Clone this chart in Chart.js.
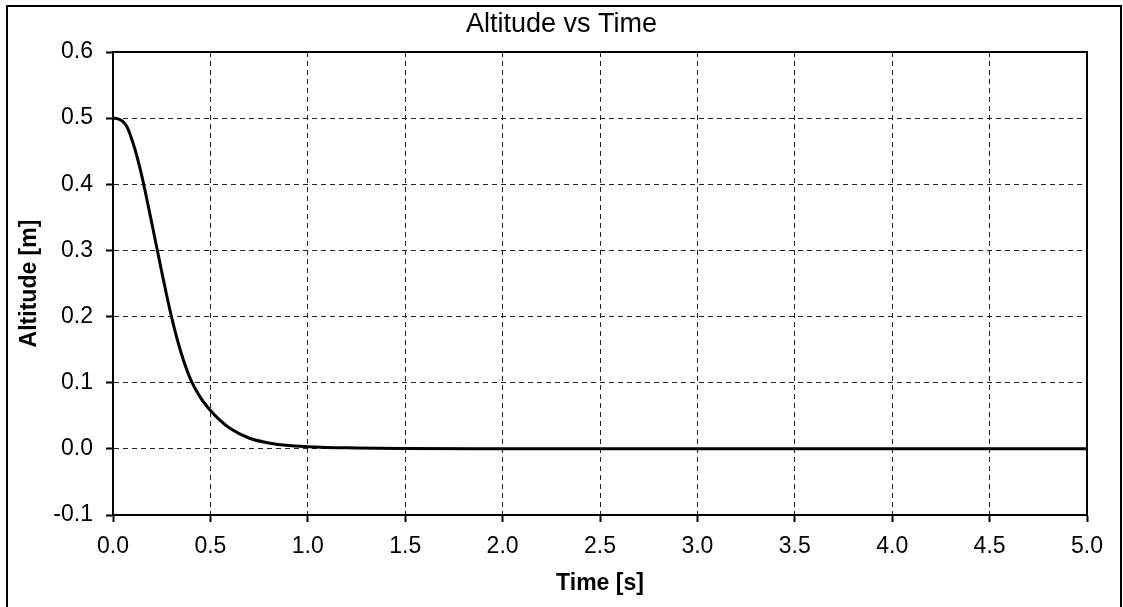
<!DOCTYPE html>
<html>
<head>
<meta charset="utf-8">
<script src="https://cdn.jsdelivr.net/npm/chart.js@4.4.0/dist/chart.umd.min.js"></script>
<style>
  html, body { margin: 0; padding: 0; background: #fff; }
  #wrap { width: 1123px; height: 607px; position: relative; }
</style>
</head>
<body>
<div id="wrap"><canvas id="c" width="1123" height="607"></canvas></div>
<script>
// Time [s]
const timeValues = [0, 0.025, 0.05, 0.075, 0.1, 0.125, 0.15, 0.2, 0.25, 0.3, 0.35, 0.4, 0.45, 0.5, 0.55, 0.6, 0.7, 0.8, 0.9, 1.0, 1.2, 1.5, 2.0, 2.5, 3.0, 3.5, 4.0, 4.5, 5.0];
// Altitude [m]
const altitudeValues = [0.5, 0.499, 0.495, 0.485, 0.465, 0.44, 0.41, 0.34, 0.268, 0.2, 0.145, 0.104, 0.077, 0.058, 0.043, 0.031, 0.016, 0.009, 0.005, 0.0033, 0.0015, 0.0005, 0.0001, 0, 0, 0, 0, 0, 0];
const xTickLabels = ['0.0','0.5','1.0','1.5','2.0','2.5','3.0','3.5','4.0','4.5','5.0'];
const yTickLabels = ['-0.1','0.0','0.1','0.2','0.3','0.4','0.5','0.6'];

const points = timeValues.map((t, i) => ({ x: t, y: altitudeValues[i] }));
const FONT = "'Liberation Sans', Arial, sans-serif";

const framePlugin = {
  id: 'frame',
  beforeDraw(chart) {
    const ctx = chart.ctx;
    ctx.save();
    ctx.fillStyle = '#fff';
    ctx.fillRect(0, 0, chart.width, chart.height);
    ctx.strokeStyle = '#000';
    ctx.lineWidth = 2;
    ctx.strokeRect(7, 6, 1114, 620);
    ctx.restore();
  },
  afterDatasetsDraw(chart) {
    const a = chart.chartArea;
    const ctx = chart.ctx;
    ctx.save();
    ctx.strokeStyle = '#000';
    ctx.lineWidth = 2;
    ctx.strokeRect(a.left, a.top, a.right - a.left, a.bottom - a.top);
    ctx.restore();
  }
};

new Chart(document.getElementById('c'), {
  type: 'line',
  data: {
    datasets: [{
      label: 'Altitude',
      data: points,
      borderColor: '#000',
      borderWidth: 3,
      pointRadius: 0,
      fill: false,
      cubicInterpolationMode: 'monotone'
    }]
  },
  options: {
    responsive: false,
    animation: false,
    layout: { padding: 0 },
    plugins: {
      legend: { display: false },
      tooltip: { enabled: false },
      title: {
        display: true,
        text: 'Altitude vs Time',
        color: '#000',
        font: { family: FONT, size: 27, weight: 'normal', lineHeight: 1.2 },
        padding: { top: 8, bottom: 11.6 }
      }
    },
    scales: {
      x: {
        type: 'linear',
        min: 0, max: 5,
        afterBuildTicks(s) { s.ticks = xTickLabels.map(v => ({ value: parseFloat(v) })); },
        afterFit(s) { s.height = 92; },
        ticks: {
          color: '#000',
          font: { family: FONT, size: 23 },
          padding: 11,
          maxRotation: 0,
          autoSkip: false,
          callback: (v, i) => xTickLabels[i]
        },
        grid: { color: '#222', lineWidth: 1, tickLength: 7, tickColor: '#000', tickWidth: 2 },
        border: { display: true, color: '#000', width: 2, dash: [5, 4] },
        title: {
          display: true,
          text: 'Time [s]',
          color: '#000',
          font: { family: FONT, size: 23, weight: 'bold', lineHeight: 1.2 },
          padding: { top: 0, bottom: 9.7 }
        }
      },
      y: {
        type: 'linear',
        position: 'left',
        min: -0.1, max: 0.6,
        afterBuildTicks(s) { s.ticks = yTickLabels.map(v => ({ value: parseFloat(v) })); },
        afterFit(s) { s.width = 113; },
        ticks: {
          color: '#000',
          font: { family: FONT, size: 23 },
          padding: 13,
          autoSkip: false,
          callback: (v, i) => yTickLabels[i]
        },
        grid: { color: '#222', lineWidth: 1, tickLength: 7, tickColor: '#000', tickWidth: 2 },
        border: { display: true, color: '#000', width: 2, dash: [5, 4] },
        title: {
          display: true,
          text: 'Altitude [m]',
          color: '#000',
          font: { family: FONT, size: 23, weight: 'bold', lineHeight: 1.2 },
          padding: { top: 15.4, bottom: 0 }
        }
      },
      yRight: {
        type: 'linear',
        position: 'right',
        display: true,
        min: -0.1, max: 0.6,
        afterFit(s) { s.width = 36; },
        ticks: { display: false },
        grid: { display: false, drawTicks: false },
        border: { display: false }
      }
    }
  },
  plugins: [framePlugin]
});
</script>
</body>
</html>
